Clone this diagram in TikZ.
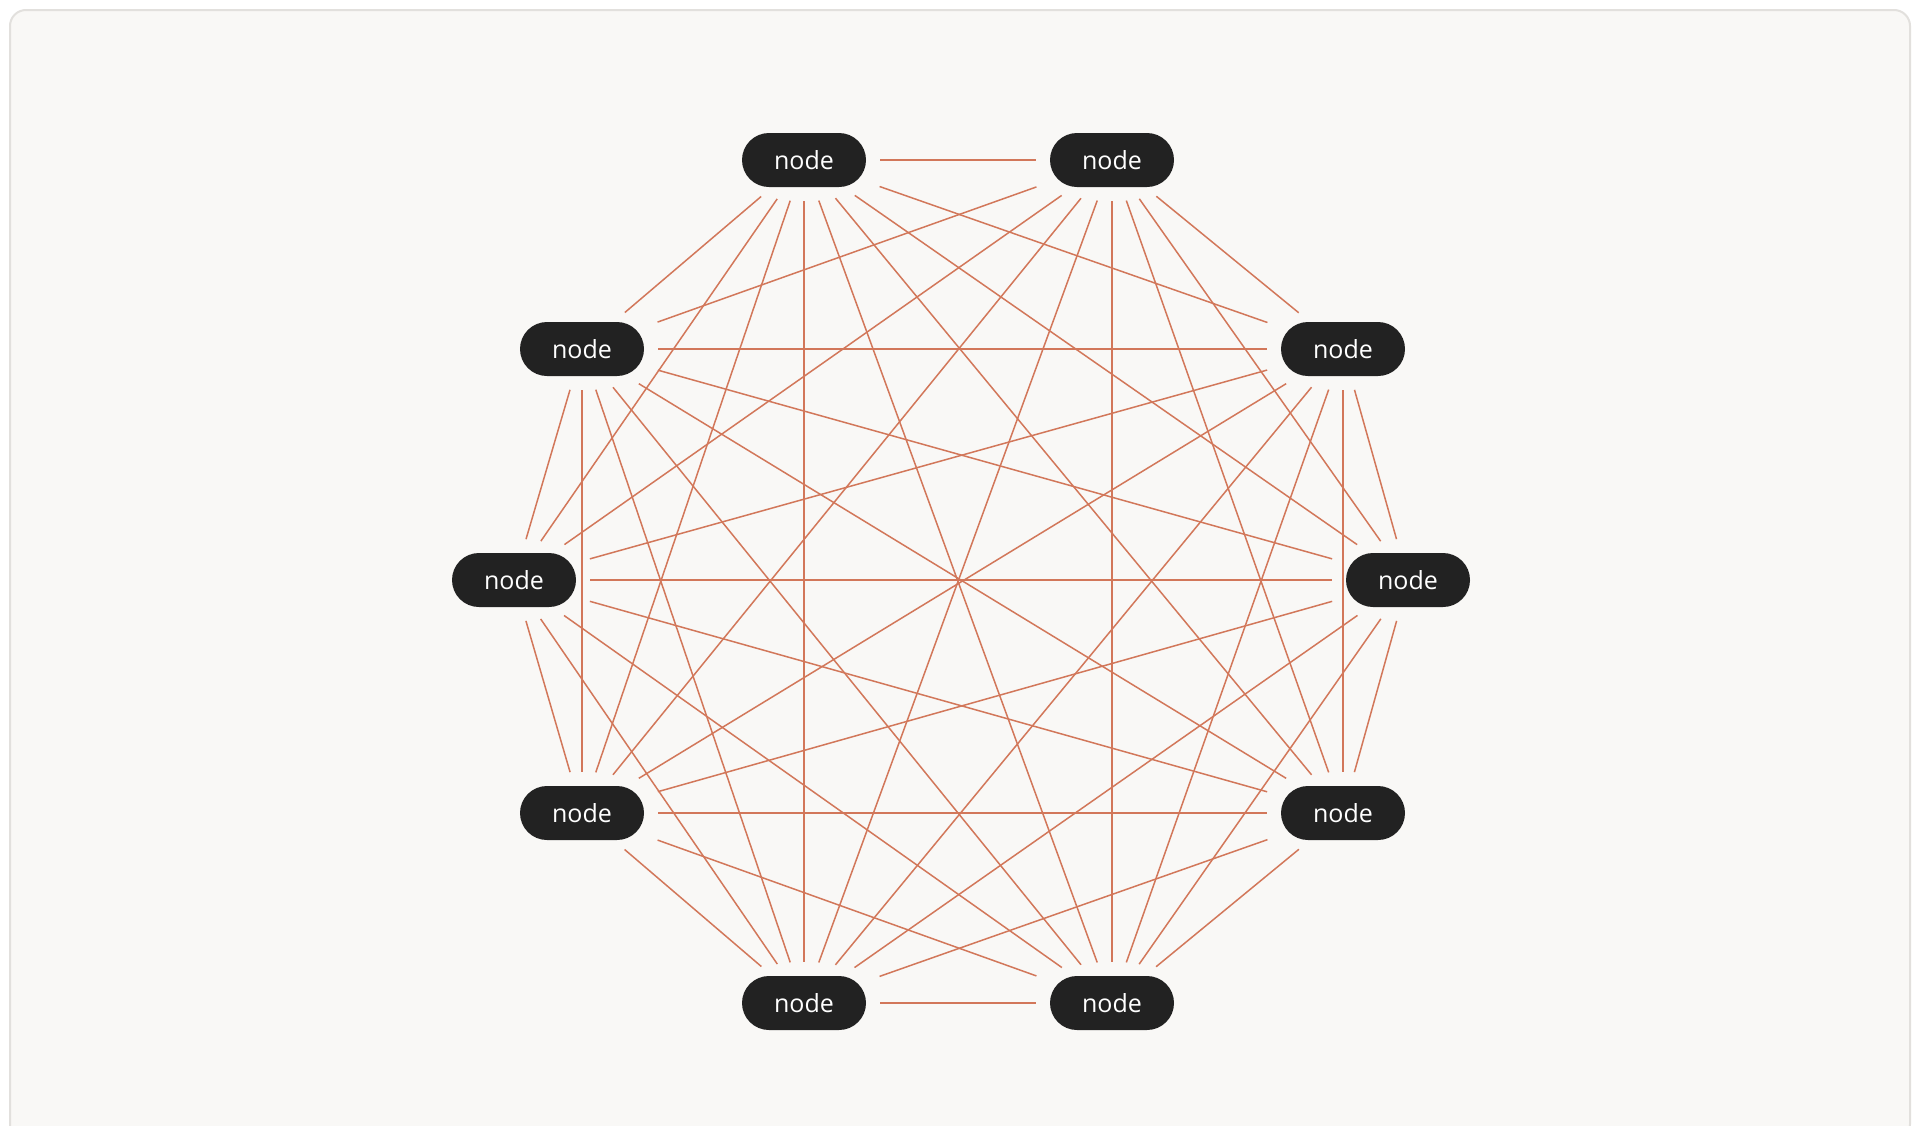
\documentclass[tikz,border=0pt]{standalone}
\usepackage{fontspec}
\setmainfont{Open Sans}
\definecolor{bg}{HTML}{F9F8F6}
\definecolor{frm}{HTML}{E2E0DD}
\definecolor{edge}{HTML}{D2775A}
\definecolor{nd}{HTML}{222222}
\begin{document}
\begin{tikzpicture}[x=0.5pt,y=-0.5pt,
  gnode/.style={fill=nd,text=white,rounded corners=13.5pt,minimum width=62pt,minimum height=27pt,inner sep=0pt,font=\fontsize{12.5}{14}\selectfont},
  gedge/.style={draw=edge,line width=0.75pt,shorten <=7pt,shorten >=7pt}]
\useasboundingbox (0,0) rectangle (1920,1125);
\fill[white] (0,0) rectangle (1920,1125);
\draw[frm,fill=bg,line width=1pt,rounded corners=8pt] (10,10) rectangle (1910,1140);
\node[gnode] (n1) at (804,160) {node};
\node[gnode] (n2) at (1112,160) {node};
\node[gnode] (n3) at (1343,349) {node};
\node[gnode] (n4) at (1408,580) {node};
\node[gnode] (n5) at (1343,813) {node};
\node[gnode] (n6) at (1112,1003) {node};
\node[gnode] (n7) at (804,1003) {node};
\node[gnode] (n8) at (582,813) {node};
\node[gnode] (n9) at (514,580) {node};
\node[gnode] (n10) at (582,349) {node};
\begin{scope}[on background layer/.style={}]
\foreach \i in {1,...,10}{
  \foreach \j in {\i,...,10}{
    \ifnum\i<\j \path[gedge] (n\i) -- (n\j);\fi
  }
}
\end{scope}
\end{tikzpicture}
\end{document}
